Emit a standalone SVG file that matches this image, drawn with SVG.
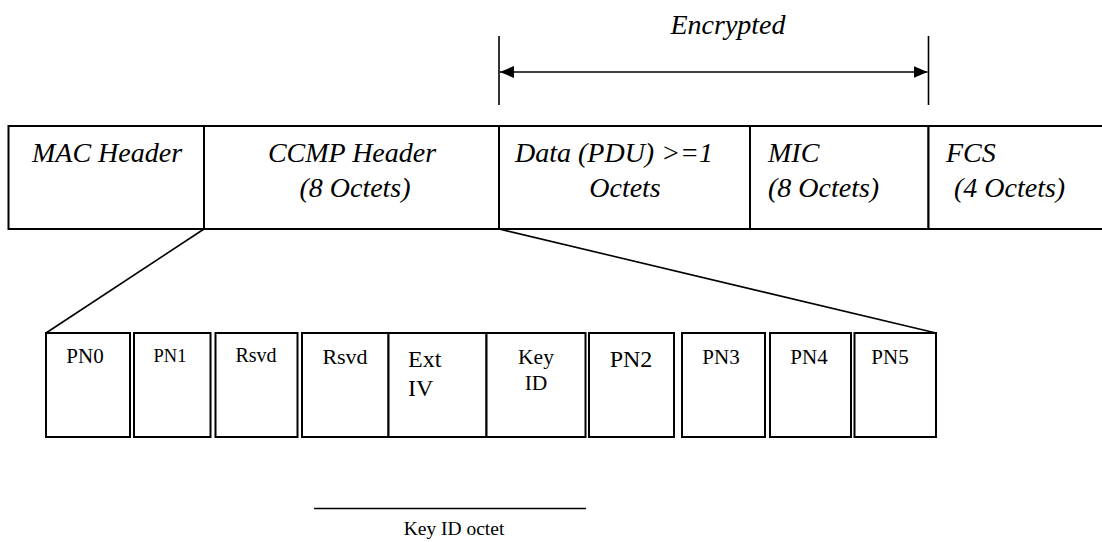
<svg xmlns="http://www.w3.org/2000/svg" width="1102" height="542" viewBox="0 0 1102 542">
  <style>
    .box { fill: #ffffff; stroke: #000000; stroke-width: 2; }
    .ln { stroke: #000000; stroke-width: 1.6; fill: none; }
    .hd { font-family: "Liberation Serif", "Times New Roman", serif; font-style: italic; font-size: 28px; fill: #000000; }
    .fld { font-family: "Liberation Serif", "Times New Roman", serif; fill: #000000; }
  </style>
  <defs>
    <marker id="tip" viewBox="0 0 14 12" refX="14" refY="6" markerWidth="14" markerHeight="12" markerUnits="userSpaceOnUse" orient="auto-start-reverse">
      <path d="M0,0 L14,6 L0,12 Z" fill="#000000"/>
    </marker>
  </defs>

  <rect width="1102" height="542" fill="#ffffff"/>

  <!-- connectors: encrypted span and zoom-out lines -->
  <g id="connectors">
    <line class="ln" x1="499" y1="36" x2="499" y2="105"/>
    <line class="ln" x1="928.5" y1="36" x2="928.5" y2="105"/>
    <line class="ln" x1="500" y1="72" x2="927.5" y2="72" marker-start="url(#tip)" marker-end="url(#tip)"/>
    <line class="ln" x1="204" y1="229" x2="46" y2="333"/>
    <line class="ln" x1="499" y1="229" x2="936" y2="333"/>
    <line class="ln" x1="314" y1="508.5" x2="586" y2="508.5"/>
  </g>

  <text class="hd" x="728" y="34" text-anchor="middle">Encrypted</text>

  <!-- MPDU frame -->
  <g id="mac-header">
    <rect class="box" x="8.5" y="126" width="195.5" height="103"/>
    <text class="hd" x="32" y="162">MAC Header</text>
  </g>
  <g id="ccmp-header">
    <rect class="box" x="204" y="126" width="295" height="103"/>
    <text class="hd" x="352" y="162" text-anchor="middle">CCMP Header</text>
    <text class="hd" x="355" y="197" text-anchor="middle">(8 Octets)</text>
  </g>
  <g id="data">
    <rect class="box" x="499" y="126" width="251" height="103"/>
    <text class="hd" x="515" y="162">Data (PDU) &gt;=1</text>
    <text class="hd" x="625" y="197" text-anchor="middle">Octets</text>
  </g>
  <g id="mic">
    <rect class="box" x="750" y="126" width="178.5" height="103"/>
    <text class="hd" x="768" y="162">MIC</text>
    <text class="hd" x="768" y="197">(8 Octets)</text>
  </g>
  <g id="fcs">
    <rect class="box" x="928.5" y="126" width="180" height="103"/>
    <text class="hd" x="946" y="162">FCS</text>
    <text class="hd" x="954" y="197">(4 Octets)</text>
  </g>

  <!-- CCMP header fields -->
  <g id="pn0">
    <rect class="box" x="46" y="333" width="84" height="104"/>
    <text class="fld" x="85" y="363" font-size="21" text-anchor="middle">PN0</text>
  </g>
  <g id="pn1">
    <rect class="box" x="134" y="333" width="76.5" height="104"/>
    <text class="fld" x="170" y="362" font-size="18.5" text-anchor="middle">PN1</text>
  </g>
  <g id="rsvd1">
    <rect class="box" x="215.5" y="333" width="82" height="104"/>
    <text class="fld" x="256" y="362" font-size="20" text-anchor="middle">Rsvd</text>
  </g>
  <g id="rsvd2">
    <rect class="box" x="302" y="333" width="86.5" height="104"/>
    <text class="fld" x="345" y="363.5" font-size="22" text-anchor="middle">Rsvd</text>
  </g>
  <g id="ext-iv">
    <rect class="box" x="388.5" y="333" width="98" height="104"/>
    <text class="fld" x="408" y="367" font-size="24">Ext</text>
    <text class="fld" x="408" y="396" font-size="24">IV</text>
  </g>
  <g id="key-id">
    <rect class="box" x="486.5" y="333" width="99" height="104"/>
    <text class="fld" x="536" y="364" font-size="21.5" text-anchor="middle">Key</text>
    <text class="fld" x="536" y="390" font-size="21.5" text-anchor="middle">ID</text>
  </g>
  <g id="pn2">
    <rect class="box" x="589" y="333" width="85" height="104"/>
    <text class="fld" x="631" y="367" font-size="24" text-anchor="middle">PN2</text>
  </g>
  <g id="pn3">
    <rect class="box" x="682" y="333" width="83" height="104"/>
    <text class="fld" x="721" y="364" font-size="21" text-anchor="middle">PN3</text>
  </g>
  <g id="pn4">
    <rect class="box" x="770" y="333" width="81" height="104"/>
    <text class="fld" x="809" y="364" font-size="21" text-anchor="middle">PN4</text>
  </g>
  <g id="pn5">
    <rect class="box" x="854.5" y="333" width="81.5" height="104"/>
    <text class="fld" x="890" y="364" font-size="21" text-anchor="middle">PN5</text>
  </g>

  <g id="key-id-octet">
    <text class="fld" x="454" y="535" font-size="19.5" text-anchor="middle">Key ID octet</text>
  </g>
</svg>
